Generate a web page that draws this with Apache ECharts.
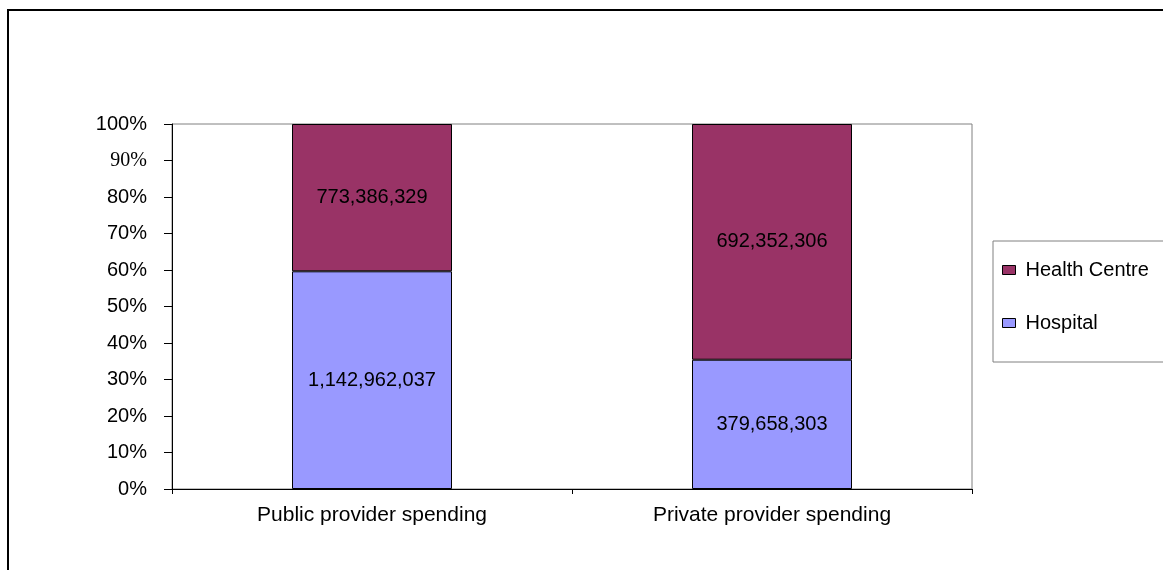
<!doctype html>
<html lang="en">
<head>
  <meta charset="utf-8">
  <title>Provider spending</title>
  <script src="https://cdn.jsdelivr.net/npm/echarts@6/dist/echarts.min.js"></script>
  <style>
    html, body { margin: 0; padding: 0; background: #fff; }
    #chart { width: 1163px; height: 570px; }
    /* the frame round the chart in the original */
    #frame {
      position: absolute; left: 7px; top: 9px; width: 1200px; height: 600px;
      border-left: 2px solid #000; border-top: 2px solid #000; pointer-events: none;
    }
  </style>
</head>
<body>
  <div id="chart"></div>
  <div id="frame"></div>

  <script>
    // data
    var categories = ['Public provider spending', 'Private provider spending'];
    var hospital = [1142962037, 379658303];
    var healthCentre = [773386329, 692352306];
    var yTicks = [0, 10, 20, 30, 40, 50, 60, 70, 80, 90, 100];

    // shares in percent, labels keep the raw amounts
    var totals = hospital.map(function (v, i) { return v + healthCentre[i]; });
    function toPct(arr) {
      return arr.map(function (v, i) { return { value: v / totals[i] * 100, raw: v }; });
    }
    function fmt(n) { return n.toLocaleString('en-US'); }

    var font = 'Arial, "Liberation Sans", sans-serif';
    var myChart = echarts.init(document.getElementById('chart'));

    var barLabel = {
      show: true,
      position: 'inside',
      color: '#000',
      fontFamily: font,
      fontSize: 20,
      formatter: function (p) { return fmt(p.data.raw); }
    };

    var option = {
      animation: false,
      grid: {
        left: 172, right: 191, top: 124, bottom: 81,
        show: true, borderColor: '#808080', borderWidth: 1
      },
      legend: {
        orient: 'vertical',
        left: 993, top: 241,
        width: 175,
        data: ['Health Centre', 'Hospital'],
        icon: 'rect',
        itemWidth: 13, itemHeight: 9,
        itemGap: 33,
        padding: [19, 30, 29, 9],
        borderColor: '#808080', borderWidth: 1,
        textStyle: { color: '#000', fontFamily: font, fontSize: 20, lineHeight: 20, padding: [0, 0, 0, 5] },
        itemStyle: { borderColor: '#000', borderWidth: 1 }
      },
      xAxis: {
        type: 'category',
        data: categories,
        boundaryGap: true,
        axisLine: { lineStyle: { color: '#000', width: 1 } },
        axisTick: { show: true, length: 5, lineStyle: { color: '#000' } },
        axisLabel: { color: '#000', fontFamily: font, fontSize: 21, margin: 16 }
      },
      yAxis: {
        type: 'value',
        min: 0, max: 100, interval: 10,
        axisLine: { show: true, lineStyle: { color: '#000', width: 1 } },
        axisTick: { show: true, length: 8, lineStyle: { color: '#000' } },
        splitLine: { show: false },
        axisLabel: {
          color: '#000', fontFamily: font, fontSize: 20, margin: 25,
          customValues: yTicks,
          formatter: function (v) { return v === 90 ? '{s|90%}' : v + '%'; },
          rich: { s: { fontFamily: '"Liberation Serif", "Times New Roman", serif', fontSize: 20, color: '#000' } }
        }
      },
      series: [
        {
          name: 'Hospital', type: 'bar', stack: 'a',
          barWidth: '40%',
          data: toPct(hospital),
          itemStyle: { color: '#9999FF', borderColor: '#000', borderWidth: 1 },
          label: barLabel
        },
        {
          name: 'Health Centre', type: 'bar', stack: 'a',
          barWidth: '40%',
          data: toPct(healthCentre),
          itemStyle: { color: '#993366', borderColor: '#000', borderWidth: 1 },
          label: barLabel
        }
      ]
    };
    myChart.setOption(option);
  </script>
</body>
</html>
